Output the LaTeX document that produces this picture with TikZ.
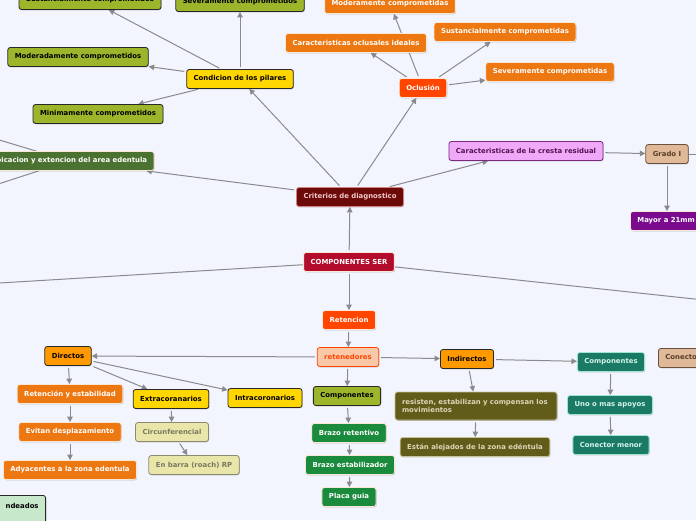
\documentclass[tikz,border=0pt]{standalone}
\usepackage{fontspec}
\setmainfont{DejaVu Sans}
\usetikzlibrary{arrows.meta,shadows}
\definecolor{bgc}{RGB}{242,245,253}
\definecolor{olivec}{RGB}{155,182,43}
\definecolor{yellowc}{RGB}{255,214,0}
\definecolor{orngc}{RGB}{237,119,17}
\definecolor{redc}{RGB}{255,69,0}
\definecolor{dgreenc}{RGB}{75,114,49}
\definecolor{maroonc}{RGB}{108,10,10}
\definecolor{maroonbd}{RGB}{210,130,130}
\definecolor{maroontx}{RGB}{240,200,200}
\definecolor{crimsonc}{RGB}{178,11,43}
\definecolor{pinkc}{RGB}{240,168,248}
\definecolor{pinkbd}{RGB}{122,40,128}
\definecolor{pinktx}{RGB}{80,20,80}
\definecolor{tanc}{RGB}{224,186,152}
\definecolor{tanbd}{RGB}{106,80,62}
\definecolor{tantx}{RGB}{90,60,40}
\definecolor{purplec}{RGB}{122,10,142}
\definecolor{peachc}{RGB}{248,200,168}
\definecolor{orangec}{RGB}{255,153,0}
\definecolor{khakic}{RGB}{234,230,170}
\definecolor{khakibd}{RGB}{138,138,112}
\definecolor{khakitx}{RGB}{120,120,96}
\definecolor{greenc}{RGB}{26,138,60}
\definecolor{dolivec}{RGB}{97,92,26}
\definecolor{dolivebd}{RGB}{200,192,150}
\definecolor{dolivetx}{RGB}{222,214,184}
\definecolor{tealc}{RGB}{26,122,102}
\definecolor{tealbd}{RGB}{160,228,212}
\definecolor{tealtx}{RGB}{214,244,236}
\definecolor{lgreenc}{RGB}{200,232,204}
\definecolor{darkbd}{RGB}{40,40,40}
\definecolor{lightbd}{RGB}{250,232,215}
\definecolor{linec}{RGB}{138,138,142}
\pgfdeclarelayer{bg}
\pgfdeclarelayer{edges}
\pgfsetlayers{bg,edges,main}
\begin{document}
\begin{tikzpicture}[x=1pt,y=-1pt,
  box/.style={rounded corners=2.5pt, minimum height=19pt, inner xsep=7pt, inner ysep=1pt,
    font=\bfseries\fontsize{6.9}{8}\selectfont, line width=0.8pt,
    drop shadow={shadow xshift=0.6pt, shadow yshift=-0.8pt, opacity=0.22, fill=black}},
  olivebox/.style={box, fill=olivec, draw=darkbd, text=black},
  yellowbox/.style={box, fill=yellowc, draw=darkbd, text=black},
  orngbox/.style={box, fill=orngc, draw=lightbd, text=white},
  redbox/.style={box, fill=redc, draw=lightbd, text=white},
  dgreenbox/.style={box, fill=dgreenc, draw=lightbd, text=white},
  maroonbox/.style={box, fill=maroonc, draw=maroonbd, text=maroontx},
  crimsonbox/.style={box, fill=crimsonc, draw=lightbd, text=white},
  pinkbox/.style={box, fill=pinkc, draw=pinkbd, text=pinktx},
  tanbox/.style={box, fill=tanc, draw=tanbd, text=tantx},
  purplebox/.style={box, fill=purplec, draw=lightbd, text=white},
  peachbox/.style={box, fill=peachc, draw=redc, text=redc},
  orangebox/.style={box, fill=orangec, draw=darkbd, text=black},
  khakibox/.style={box, fill=khakic, draw=khakibd, text=khakitx},
  greenbox/.style={box, fill=greenc, draw=lightbd, text=white},
  dolivebox/.style={box, fill=dolivec, draw=dolivebd, text=dolivetx},
  tealbox/.style={box, fill=tealc, draw=tealbd, text=tealtx},
  lgreenbox/.style={box, fill=lgreenc, draw=darkbd, text=black},
  conn/.style={draw=linec, line width=1pt, -{Triangle[length=5.5pt,width=5.5pt]}, shorten <=2pt},
  plainconn/.style={draw=linec, line width=1pt}
]
\begin{pgfonlayer}{bg}
  \fill[bgc] (0,0) rectangle (696,520);
\end{pgfonlayer}
\useasboundingbox (0,0) rectangle (696,520);

% nodes
\node[olivebox] (s1) at (90,0) {Sustancialmente comprometidos};
\node[olivebox] (s2) at (240,2) {Severamente comprometidos};
\node[olivebox] (s3) at (78,57) {Moderadamente comprometidos};
\node[yellowbox] (cp) at (240,79) {Condicion de los pilares};
\node[olivebox] (s4) at (98,114) {Minimamente comprometidos};
\node[orngbox] (o1) at (390,4) {Moderamente comprometidas};
\node[orngbox] (o2) at (356,43) {Caracteristicas oclusales ideales};
\node[orngbox] (o3) at (505,32) {Sustancialmente comprometidas};
\node[orngbox] (o4) at (550,72) {Severamente comprometidas};
\node[redbox] (ocl) at (423,88) {Oclusión};
\node[dgreenbox] (ub) at (69,161) {Ubicacion y extencion del area edentula};
\node[maroonbox] (cd) at (350,197) {Criterios de diagnostico};
\node[pinkbox] (cr) at (526,151) {Caracteristicas de la cresta residual};
\node[tanbox] (g1) at (667,154) {Grado I};
\node[purplebox, anchor=west] (my) at (630,221) {Mayor a 21mm};
\node[crimsonbox] (cs) at (349,262) {COMPONENTES SER};
\node[redbox] (rt) at (349,320) {Retencion};
\node[peachbox] (rn) at (348,357) {retenedores};
\node[orangebox] (di) at (68,356) {Directos};
\node[orngbox] (d1) at (70,394) {Retención y estabilidad};
\node[orngbox] (d2) at (70,432) {Evitan desplazamiento};
\node[orngbox] (d3) at (70,470) {Adyacentes a la zona edentula};
\node[yellowbox] (ex) at (171,399) {Extracoranarios};
\node[yellowbox] (in) at (265,398) {Intracoronarios};
\node[khakibox] (c1) at (172,432) {Circunferencial};
\node[khakibox] (c2) at (194,465) {En barra (roach) RP};
\node[lgreenbox, anchor=north east, minimum height=30pt, text width=66pt, align=right] (nd) at (46,495) {ndeados\\[1pt]\mbox{}};
\node[olivebox] (co) at (347,396) {Componentes};
\node[greenbox] (b1) at (349,433) {Brazo retentivo};
\node[greenbox] (b2) at (350,465) {Brazo estabilizador};
\node[greenbox] (b3) at (349,497) {Placa guia};
\node[orangebox] (id) at (467,359) {Indirectos};
\node[dolivebox, text width=148pt, align=left, minimum height=28pt, inner xsep=7pt] (r1) at (476,406) {resisten, estabilizan y compensan los movimientos};
\node[dolivebox] (r2) at (475,447) {Están alejados de la zona edéntula};
\node[tealbox] (tc) at (611,362) {Componentes};
\node[tealbox] (t1) at (610,405) {Uno o mas apoyos};
\node[tealbox] (t2) at (611,445) {Conector menor};
\node[tanbox, anchor=west] (cm) at (658,358) {Conector mayor};

\coordinate (ubL1) at (-100,110);
\coordinate (ubL2) at (-100,216);
\coordinate (offL) at (-300,301);
\coordinate (offR) at (900,321);
\coordinate (offG) at (800,154);

\begin{pgfonlayer}{edges}
  \draw[conn] (cp) -- (s1);
  \draw[conn] (cp) -- (s2);
  \draw[conn] (cp) -- (s3);
  \draw[conn] (cp) -- (s4);
  \draw[conn] (cd) -- (cp);
  \draw[conn] (cd) -- (ocl);
  \draw[conn] (ocl) -- (o1);
  \draw[conn] (ocl) -- (o2);
  \draw[conn] (ocl) -- (o3);
  \draw[conn] (ocl) -- (o4);
  \draw[conn] (cd) -- (ub);
  \draw[plainconn] (ub.center) -- (ubL1);
  \draw[plainconn] (ub.center) -- (ubL2);
  \draw[conn] (cd) -- (cr);
  \draw[conn] (cr) -- (g1);
  \draw[plainconn] (g1) -- (offG);
  \draw[conn] (g1) -- (g1 |- my.north);
  \draw[conn] (cs) -- (cd);
  \draw[plainconn] (cs) -- (offL);
  \draw[plainconn] (cs) -- (offR);
  \draw[conn] (cs) -- (rt);
  \draw[conn] (rt) -- (rn);
  \draw[conn] (rn) -- (di);
  \draw[conn] (rn) -- (id);
  \draw[conn] (rn) -- (co);
  \draw[conn] (di) -- (d1);
  \draw[conn] (d1) -- (d2);
  \draw[conn] (d2) -- (d3);
  \draw[conn] (di) -- (ex);
  \draw[conn] (di) -- (in);
  \draw[conn] (ex) -- (c1);
  \draw[conn] (c1) -- (c2);
  \draw[conn] (co) -- (b1);
  \draw[conn] (b1) -- (b2);
  \draw[conn] (b2) -- (b3);
  \draw[conn] (id) -- (r1);
  \draw[conn] (r1) -- (r2);
  \draw[conn] (id) -- (tc);
  \draw[conn] (tc) -- (t1);
  \draw[conn] (t1) -- (t2);
\end{pgfonlayer}
\end{tikzpicture}
\end{document}
